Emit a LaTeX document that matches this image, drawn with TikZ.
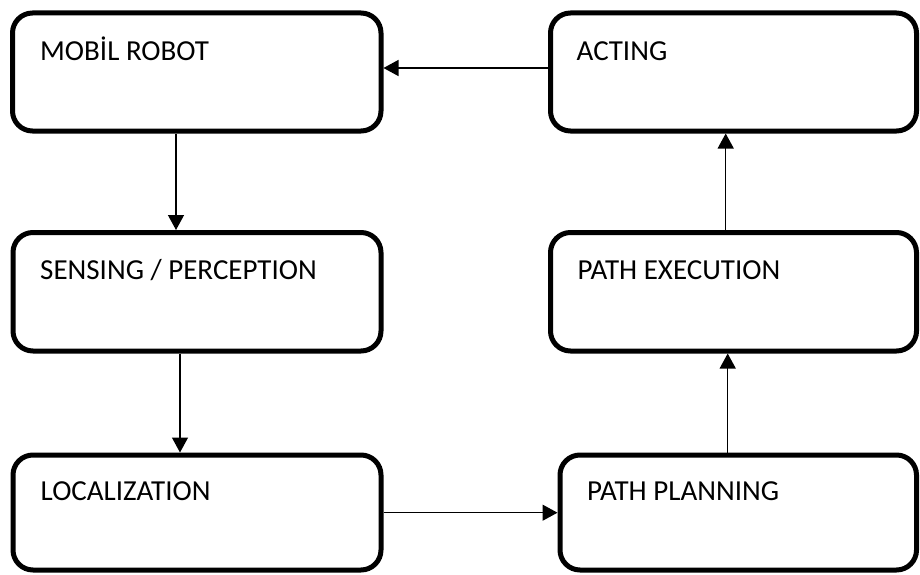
\documentclass[tikz,border=0pt]{standalone}
\usepackage{fontspec}
\setmainfont{Carlito}
\usetikzlibrary{arrows.meta}
\begin{document}
\begin{tikzpicture}[x=1pt,y=-1pt,
  box/.style={draw=black,line width=5pt,rounded corners=20pt,fill=white,inner sep=0pt},
  lbl/.style={anchor=base west,inner sep=0pt,font=\fontsize{29}{33}\selectfont},
  arr/.style={line width=1.3pt,-{Triangle[length=15pt,width=16pt]}}]
\useasboundingbox[fill=white] (0,0) rectangle (920,575);
\node[box,minimum width=368.5pt,minimum height=118pt] (b1) at (196.75,72) {};
\node[box,minimum width=366pt,minimum height=118pt] (b2) at (733.5,72) {};
\node[box,minimum width=368pt,minimum height=118.5pt] (b3) at (197,291.75) {};
\node[box,minimum width=366pt,minimum height=118.5pt] (b4) at (733.5,291.75) {};
\node[box,minimum width=368pt,minimum height=115pt] (b5) at (197,512.5) {};
\node[box,minimum width=356.5pt,minimum height=115pt] (b6) at (738.25,512.5) {};
\node[lbl] (t1) at (40,60.7) {MOBİL ROBOT};
\node[lbl] (t2) at (576.5,60.7) {ACTING};
\node[lbl] (t3) at (40,279.3) {SENSING / PERCEPTION};
\node[lbl] (t4) at (577.5,279.3) {PATH EXECUTION};
\node[lbl] (t5) at (40.5,500.7) {LOCALIZATION};
\node[lbl] (t6) at (587,500.7) {PATH PLANNING};
\coordinate (h1) at (0,68);
\coordinate (h2) at (0,512.7);
\coordinate (v1) at (176,0);
\coordinate (v2) at (180,0);
\coordinate (v3) at (727.7,0);
\coordinate (v4) at (725.7,0);
\draw[arr] (b2.west |- h1) -- (b1.east |- h1);
\draw[arr] (v1 |- b1.south) -- (v1 |- b3.north);
\draw[arr] (v2 |- b3.south) -- (v2 |- b5.north);
\draw[arr] (b5.east |- h2) -- (b6.west |- h2);
\draw[arr] (v3 |- b6.north) -- (v3 |- b4.south);
\draw[arr] (v4 |- b4.north) -- (v4 |- b2.south);
\end{tikzpicture}
\end{document}
